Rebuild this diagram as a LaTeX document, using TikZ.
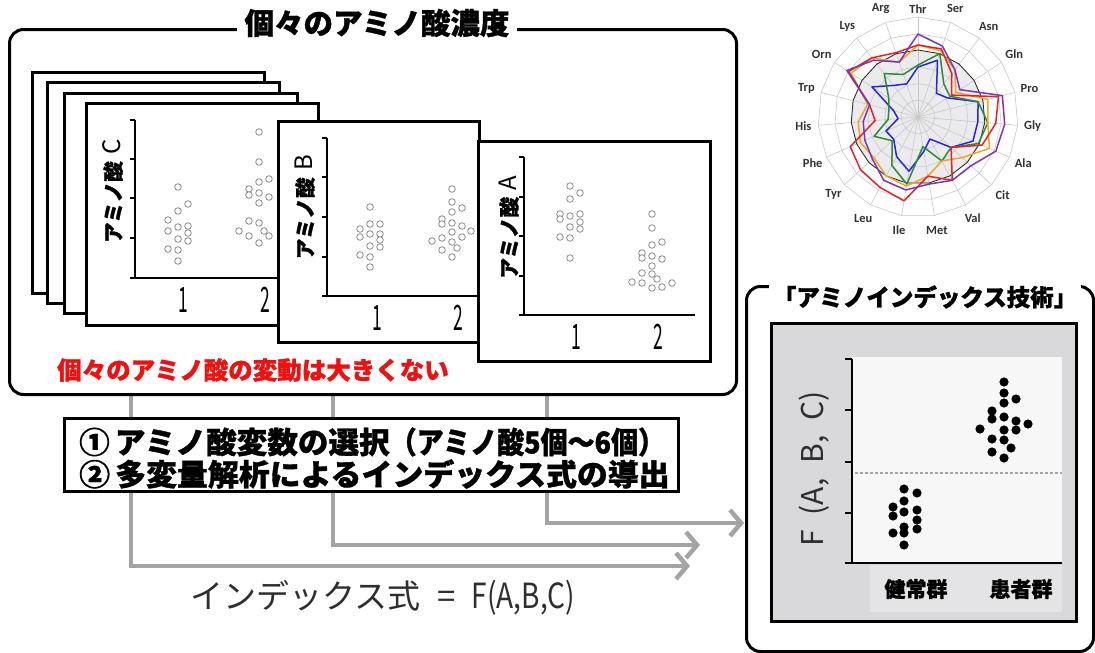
\documentclass[tikz,border=0pt]{standalone}
\usepackage{fontspec}
\usepackage{graphicx}
\setmainfont{Liberation Sans}
\newfontfamily\jp[BoldFeatures={FakeBold=1.2}]{Noto Sans CJK JP}
\newfontfamily\lab{Carlito}
\usetikzlibrary{arrows.meta}
\definecolor{flowgray}{HTML}{A4A4A6}
\definecolor{ptgray}{HTML}{8C8C8C}
\definecolor{txtgray}{HTML}{2E2E2E}
\definecolor{panelgray}{HTML}{D9D9DC}
\definecolor{labgray}{HTML}{E4E4E6}
\definecolor{plotbg}{HTML}{F7F7F7}
\definecolor{gridgray}{HTML}{C8C8C8}
\definecolor{refgray}{HTML}{EBEBEE}
\definecolor{redtxt}{HTML}{F01010}
\definecolor{spurple}{HTML}{7B35B0}
\definecolor{sred}{HTML}{E52222}
\definecolor{sorange}{HTML}{F2A32A}
\definecolor{sgreen}{HTML}{2E8B35}
\definecolor{sblue}{HTML}{2626E0}
\begin{document}
\begin{tikzpicture}[x=1pt,y=-1pt,
  frame/.style={draw=black,line width=3pt,rounded corners=14pt,fill=white},
  card/.style={draw=black,line width=2.6pt,fill=white},
  axis/.style={line width=2.3pt},
  tick/.style={line width=1.6pt},
  ocirc/.style={draw=ptgray,fill=white,line width=0.8pt},
  fdot/.style={fill=black},
  flow/.style={draw=flowgray,line width=4.5pt},
  flowtip/.style={flow,-{Straight Barb[length=11pt,width=26pt]}},
  ylab/.style={rotate=90,font=\jp\bfseries\fontsize{20.5}{21}\selectfont},
  xnum/.style={font=\jp\fontsize{35}{35}\selectfont},
  rlab/.style={font=\lab\bfseries\fontsize{12.5}{13}\selectfont,text=black!80}
]
\useasboundingbox (0,0) rectangle (1095,653);

% ---------- flow connectors ----------
\coordinate (s1) at (131,393);
\coordinate (s2) at (333,393);
\coordinate (s3) at (547,393);
\coordinate (t1) at (690,566);
\coordinate (t2) at (700,545);
\coordinate (t3) at (744,523);
\draw[flowtip] (s1) |- (t1);
\draw[flowtip] (s2) |- (t2);
\draw[flowtip] (s3) |- (t3);

% ---------- main frame ----------
\node[frame,anchor=north west,minimum width=727pt,minimum height=365pt] (main) at (8,28) {};
\node[fill=white,inner xsep=8pt,inner ysep=2pt,font=\jp\bfseries\fontsize{29.5}{30}\selectfont] (title) at (377,23) {個々のアミノ酸濃度};

% back cards
\node[card,anchor=north west,minimum width=232pt,minimum height=221pt] (k1) at (31,71) {};
\node[card,anchor=north west,minimum width=232pt,minimum height=221pt] (k2) at (46,81) {};
\node[card,anchor=north west,minimum width=233pt,minimum height=220pt] (k3) at (63,92) {};

% card C
\node[card,anchor=north west,minimum width=232pt,minimum height=222pt] (kc) at (85,102) {};
\draw[axis] (135,120) -- (135,278) -- (300,278);
\foreach \yy in {120,159,198,238,278} \draw[tick] (130,\yy) -- (135,\yy);
\node[ylab] (lc) at (113,191) {アミノ酸\,\,{\mdseries\fontsize{24}{24}\selectfont C}};
\node[xnum] (c1) at (183,300) {\scalebox{0.5}[1]{1}};
\node[xnum] (c2) at (265,300) {\scalebox{0.5}[1]{2}};
\foreach \p in {(178,187),(188,204),(178,211),(168,220),(178,227),(188,226),(168,231),(188,233),(178,239),(188,241),(168,249),(178,250),(178,261),
  (259,132),(259,162),(269,179),(259,182),(249,189),(249,195),(259,193),(269,197),(259,203),(249,221),(259,223),(239,231),(264,231),(269,236),(249,236),(259,243)}
  \draw[ocirc] \p circle (3.3pt);

% card B
\node[card,anchor=north west,minimum width=201pt,minimum height=221pt] (kb) at (277,120) {};
\draw[axis] (327,138) -- (327,296) -- (490,296);
\foreach \yy in {138,177,217,257,296} \draw[tick] (322,\yy) -- (327,\yy);
\node[ylab] (lb) at (305,207) {アミノ酸\,\,{\mdseries\fontsize{24}{24}\selectfont B}};
\node[xnum] (b1) at (377,318) {\scalebox{0.5}[1]{1}};
\node[xnum] (b2) at (458,318) {\scalebox{0.5}[1]{2}};
\foreach \p in {(370,207),(360,229),(370,224),(380,224),(360,237),(370,234),(380,234),(380,240),(370,246),(380,247),(360,255),(370,257),(370,267),
  (452,189),(452,202),(462,208),(452,212),(442,219),(442,224),(452,223),(462,226),(471,231),(452,232),(442,238),(462,237),(432,241),(452,242),(457,248),(442,250),(452,257)}
  \draw[ocirc] \p circle (3.3pt);

% card A
\node[card,anchor=north west,minimum width=232pt,minimum height=220pt] (ka) at (477,140) {};
\draw[axis] (524,157) -- (524,315) -- (695,315);
\foreach \yy in {157,197,236,276,315} \draw[tick] (519,\yy) -- (524,\yy);
\node[ylab] (la) at (509,227) {アミノ酸\,\,{\mdseries\fontsize{24}{24}\selectfont A}};
\node[xnum] (a1) at (576,337) {\scalebox{0.5}[1]{1}};
\node[xnum] (a2) at (658,337) {\scalebox{0.5}[1]{2}};
\foreach \p in {(570,186),(580,193),(570,199),(560,214),(560,219),(570,216),(580,214),(580,222),(570,227),(580,229),(560,237),(570,238),(570,258),
  (652,214),(652,228),(662,242),(652,245),(642,253),(642,258),(652,256),(662,259),(652,266),(642,273),(652,274),(657,279),(632,282),(642,283),(672,283),(652,288),(662,287)}
  \draw[ocirc] \p circle (3.3pt);

\node[text=redtxt,font=\jp\bfseries\fontsize{24.5}{25}\selectfont] (note) at (253,370) {個々のアミノ酸の変動は大きくない};

% ---------- process box ----------
\node[draw=black,line width=2.5pt,fill=white,anchor=north west,minimum width=614pt,minimum height=73pt] (proc) at (63,417) {};
\node[anchor=west,font=\jp\bfseries\fontsize{30}{30}\selectfont,inner sep=0pt] (p1) at (79,442) {\scalebox{1.02}[1]{①\,アミノ酸変数の選択}\scalebox{0.9}[1]{（アミノ酸5個〜6個）}};
\node[anchor=west,font=\jp\bfseries\fontsize{30}{30}\selectfont,inner sep=0pt] (p2) at (79,474) {\scalebox{1.03}[1]{②\,多変量解析によるインデックス式の導出}};

\node[text=txtgray,font=\jp\fontsize{33}{33}\selectfont] (formula) at (383,598) {インデックス式\enspace=\enspace\scalebox{0.85}[1.05]{F(A,B,C)}};

% ---------- right panel ----------
\node[frame,anchor=north west,minimum width=347pt,minimum height=365pt] (panel) at (745,285) {};
\node[fill=white,inner xsep=4pt,inner ysep=2pt,font=\jp\bfseries\fontsize{23.5}{24}\selectfont] (ptitle) at (925,297) {「アミノインデックス技術」};
\node[draw=black,line width=2.5pt,fill=panelgray,anchor=north west,minimum width=305pt,minimum height=298pt] (inner) at (770,322) {};
\fill[plotbg] (852,357) rectangle (1062,563);
\fill[labgray] (870,565) rectangle (1062,612);
\draw[flowgray,line width=2pt,dash pattern=on 3pt off 2pt] (855,473) -- (1062,473);
\draw[axis] (852,359) -- (852,563) -- (1062,563);
\foreach \yy in {359,410,462,513,563} \draw[tick] (845,\yy) -- (852,\yy);
\node[rotate=90,text=txtgray,font=\jp\fontsize{30}{30}\selectfont] (fy) at (814,469) {F\enspace(A,\enspace B,\enspace C)};
\node[font=\jp\bfseries\fontsize{21}{22}\selectfont] (g1) at (916,589) {健常群};
\node[font=\jp\bfseries\fontsize{21}{22}\selectfont] (g2) at (1021,589) {患者群};
\foreach \p in {(904,489),(917,493),(893,507),(904,501),(917,510),(893,516),(904,512),(917,520),(904,527),(917,529),(893,533),(904,533),(904,545),
  (1004,382),(1004,393),(1016,399),(1004,403),(992,411),(992,419),(1004,417),(1016,421),(1028,424),(980,429),(1004,430),(1016,430),(992,439),(1004,440),(1011,448),(992,452),(1004,458)}
  \fill[fdot] \p circle (4.6pt);

% ---------- radar chart ----------
\begin{scope}[shift={(918,117)}]
  \fill[refgray] (90:67pt) \foreach \k in {1,...,18} { -- (90-\k*18.947:67pt) } -- cycle;
  \foreach \r in {16.67,33.33,50,66.67,83.33,100}
    \draw[gridgray,line width=0.6pt] (90:\r pt) \foreach \k in {1,...,18} { -- (90-\k*18.947:\r pt) } -- cycle;
  \foreach \k in {0,...,18} \draw[gridgray,line width=0.6pt] (0,0) -- (90-\k*18.947:100pt);
  \draw[black!85,line width=0.8pt] (90:67pt) \foreach \k in {1,...,18} { -- (90-\k*18.947:67pt) } -- cycle;
  \foreach \nm [count=\k from 0] in {Ser,Asn,Gln,Pro,Gly,Ala,Cit,Val,Met,Ile,Leu,Tyr,Phe,His,Trp,Orn,Lys,Arg}
    \node[rlab] (r\nm) at (90-\k*18.947-18.947:115pt) {\nm};
  \node[rlab] (rThr) at (90:108pt) {Thr};
  \foreach \v [count=\k from 0] in {0.50,0.60,0.30,0.35,0.62,0.60,0.60,0.45,0.25,0.35,0.55,0.45,0.33,0.35,0.20,0.25,0.55,0.40,0.35}
    \coordinate (bl\k) at (90-\k*18.947:\v*100pt);
  \foreach \v [count=\k from 0] in {0.52,0.67,0.42,0.38,0.62,0.70,0.66,0.45,0.50,0.30,0.68,0.55,0.35,0.48,0.30,0.30,0.35,0.55,0.45}
    \coordinate (gr\k) at (90-\k*18.947:\v*100pt);
  \foreach \v [count=\k from 0] in {0.72,0.70,0.60,0.45,0.72,0.70,0.78,0.60,0.50,0.60,0.70,0.67,0.60,0.63,0.60,0.52,0.80,0.75,0.58}
    \coordinate (or\k) at (90-\k*18.947:\v*100pt);
  \foreach \v [count=\k from 0] in {0.72,0.72,0.55,0.40,0.83,0.78,0.70,0.45,0.72,0.60,0.85,0.80,0.78,0.74,0.43,0.50,0.83,0.75,0.68}
    \coordinate (rd\k) at (90-\k*18.947:\v*100pt);
  \foreach \v [count=\k from 0] in {0.83,0.75,0.60,0.50,0.87,0.87,0.85,0.72,0.72,0.68,0.74,0.72,0.62,0.58,0.55,0.50,0.85,0.72,0.58}
    \coordinate (pu\k) at (90-\k*18.947:\v*100pt);
  \draw[sblue,line width=1.5pt,line join=round] (bl0) \foreach \k in {1,...,18} { -- (bl\k) } -- cycle;
  \draw[sgreen,line width=1.5pt,line join=round] (gr0) \foreach \k in {1,...,18} { -- (gr\k) } -- cycle;
  \draw[sorange,line width=1.5pt,line join=round] (or0) \foreach \k in {1,...,18} { -- (or\k) } -- cycle;
  \draw[sred,line width=1.5pt,line join=round] (rd0) \foreach \k in {1,...,18} { -- (rd\k) } -- cycle;
  \draw[spurple,line width=1.5pt,line join=round] (pu0) \foreach \k in {1,...,18} { -- (pu\k) } -- cycle;
\end{scope}
\end{tikzpicture}
\end{document}
